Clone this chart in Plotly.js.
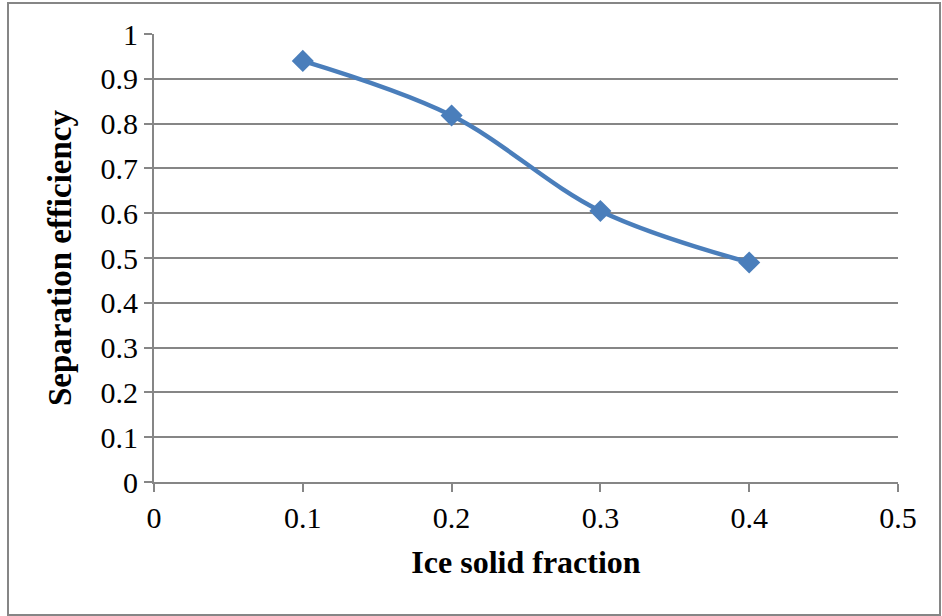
<!DOCTYPE html>
<html>
<head>
<meta charset="utf-8">
<script src="https://cdn.plot.ly/plotly-3.0.1.min.js"></script>
<style>
  html, body { margin: 0; padding: 0; background: #fff; }
  #chart { width: 942px; height: 616px; }
</style>
</head>
<body>
<div id="chart"></div>
<script>
// Separation efficiency against ice solid fraction
const iceSolidFraction = [0.1, 0.2, 0.3, 0.4];
const separationEfficiency = [0.94, 0.818, 0.605, 0.49];

const xTicks = [0, 0.1, 0.2, 0.3, 0.4, 0.5];
const yTicks = [0, 0.1, 0.2, 0.3, 0.4, 0.5, 0.6, 0.7, 0.8, 0.9, 1];

const W = 942, H = 616;
const M = { l: 154, r: 44, t: 34, b: 134 };
const plotW = W - M.l - M.r, plotH = H - M.t - M.b;

// outer frame in paper coordinates (paper = plot area)
const px = v => (v - M.l) / plotW;
const py = v => (H - M.b - v) / plotH;

const gridColor = '#868686';
const serif = 'Liberation Serif, Times New Roman, serif';

const trace = {
  x: iceSolidFraction,
  y: separationEfficiency,
  type: 'scatter',
  mode: 'lines+markers',
  line: { color: '#4a7ebb', width: 4.5, shape: 'spline', smoothing: 1 },
  marker: { symbol: 'diamond', size: 17, color: '#4a7ebb' },
  hoverinfo: 'x+y'
};

const layout = {
  width: W, height: H,
  margin: M,
  paper_bgcolor: '#fff',
  plot_bgcolor: '#fff',
  showlegend: false,
  font: { family: serif, size: 30, color: '#000' },
  xaxis: {
    range: [0, 0.5],
    tickvals: xTicks,
    ticktext: xTicks.map(String),
    showgrid: false,
    zeroline: false,
    showline: true,
    linecolor: gridColor,
    linewidth: 2,
    ticks: 'outside',
    ticklen: 8,
    tickwidth: 2,
    tickcolor: gridColor,
    tickfont: { family: serif, size: 30 },
    title: { text: '<b>Ice solid fraction</b>', font: { family: serif, size: 32 }, standoff: 18 }
  },
  yaxis: {
    range: [0, 1],
    tickvals: yTicks,
    ticktext: yTicks.map(String),
    showgrid: true,
    gridcolor: gridColor,
    gridwidth: 2,
    zeroline: false,
    showline: true,
    linecolor: gridColor,
    linewidth: 2,
    ticks: 'outside',
    ticklen: 8,
    tickwidth: 2,
    tickcolor: gridColor,
    tickfont: { family: serif, size: 30 },
    title: { text: '<b>Separation efficiency</b>', font: { family: serif, size: 33 }, standoff: 19 }
  },
  shapes: [{
    type: 'rect', xref: 'paper', yref: 'paper',
    x0: px(8), x1: px(940), y0: py(3), y1: py(615),
    line: { color: '#868686', width: 2 },
    fillcolor: 'rgba(0,0,0,0)',
    layer: 'below'
  }]
};

Plotly.newPlot('chart', [trace], layout, { displayModeBar: false, staticPlot: true });
</script>
</body>
</html>
